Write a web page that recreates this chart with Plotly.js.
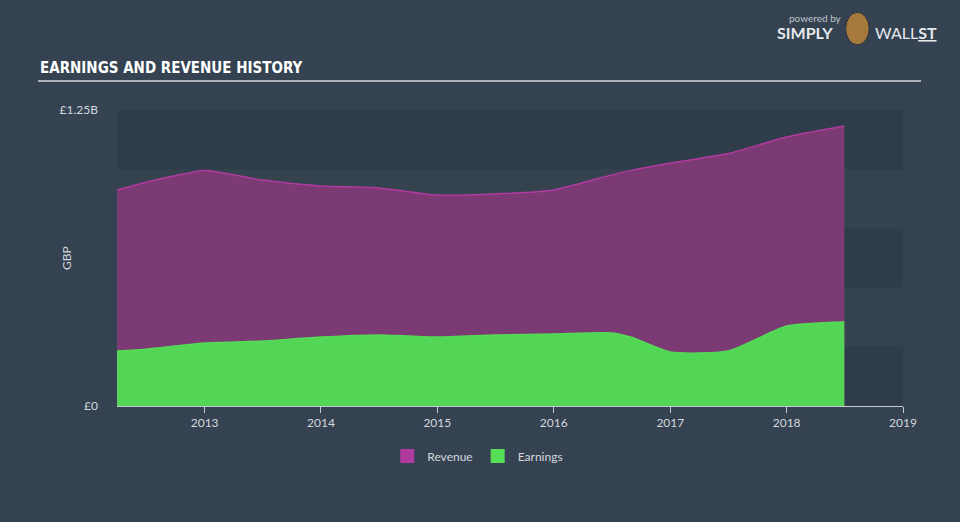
<!DOCTYPE html>
<html><head><meta charset="utf-8">
<script src="https://cdn.plot.ly/plotly-3.0.1.min.js"></script>
<style>html,body{margin:0;padding:0;background:#344252;}#c{width:960px;height:522px;}</style>
</head><body><div id="c"></div>
<script>
const dates = ["2012-04-01","2012-07-01","2012-10-01","2013-01-01","2013-07-01","2014-01-01","2014-07-01","2015-01-01","2015-07-01","2016-01-01","2016-07-01","2016-09-01","2017-01-01","2017-07-01","2018-01-01","2018-07-01"];
const revenue = [0.912e9,0.945e9,0.972e9,0.995e9,0.954e9,0.929e9,0.921e9,0.891e9,0.895e9,0.912e9,0.976e9,0.995e9,1.026e9,1.066e9,1.136e9,1.182e9];
const earnings = [0.232e9,0.240e9,0.253e9,0.266e9,0.274e9,0.291e9,0.300e9,0.291e9,0.300e9,0.304e9,0.308e9,0.290e9,0.228e9,0.232e9,0.338e9,0.355e9];
const yTickVals = [0, 1.25e9];
const yTickText = ["£0", "£1.25B"];
const xTickVals = ["2013-01-01","2014-01-01","2015-01-01","2016-01-01","2017-01-01","2018-01-01","2019-01-01"];
const xTickText = ["2013","2014","2015","2016","2017","2018","2019"];
const bandEdges = [0, 0.25e9, 0.5e9, 0.75e9, 1.0e9, 1.25e9];
const seriesNames = ["Revenue", "Earnings"];
const legendColors = ["#b03a9f", "#55e055"];

const shapes = [];
for (let i = 0; i < bandEdges.length - 1; i++) {
  shapes.push({type:'rect', xref:'paper', yref:'y', x0:0, x1:1, y0:bandEdges[i], y1:bandEdges[i+1],
    fillcolor: i % 2 === 0 ? '#2f3c4a' : '#35434f', line:{width:0}, layer:'below'});
}
shapes.push({type:'line', xref:'paper', yref:'paper', x0:-0.1005, x1:1.0229, y0:1.098, y1:1.098, line:{color:'#aeb3b9', width:2}});
shapes.push({type:'circle', xref:'paper', yref:'paper', x0:0.927, x1:0.957, y0:1.22, y1:1.33, fillcolor:'#a57a3c', line:{color:'#2a2f36', width:1}});

const traces = [
  {x: dates, y: revenue, name: seriesNames[0], type: 'scatter', mode: 'lines', fill: 'tozeroy', showlegend: false,
   line: {color: '#b23aa0', width: 1.5, shape: 'spline', smoothing: 0.6}, fillcolor: '#7b3a74'},
  {x: dates, y: earnings, name: seriesNames[1], type: 'scatter', mode: 'lines', fill: 'tozeroy', showlegend: false,
   line: {color: '#55da55', width: 1.5, shape: 'spline', smoothing: 0.6}, fillcolor: '#53d655'}
];
seriesNames.forEach((n, i) => traces.push({x: [null], y: [null], name: n, type: 'scatter', mode: 'markers',
  marker: {symbol: 'square', size: 14, color: legendColors[i]}, showlegend: true, hoverinfo: 'skip'}));

const layout = {
  width: 960, height: 522,
  paper_bgcolor: '#344252', plot_bgcolor: 'rgba(0,0,0,0)',
  margin: {l: 117, r: 57, t: 110, b: 116},
  font: {family: 'Lato, "Open Sans", sans-serif', color: '#d4d8dc', size: 12},
  showlegend: true,
  legend: {orientation: 'h', x: 0.459, xanchor: 'center', y: -0.169, yanchor: 'middle',
    font: {size: 12, color: '#d4d8dc'}, bgcolor: 'rgba(0,0,0,0)', itemwidth: 30, tracegroupgap: 0},
  xaxis: {type: 'date', range: ['2012-04-01', '2019-01-01'], tickvals: xTickVals, ticktext: xTickText,
    showgrid: false, zeroline: false, showline: true, linecolor: '#c5cad0', linewidth: 1,
    ticks: 'outside', ticklen: 6, tickcolor: '#c5cad0', tickfont: {size: 12, color: '#d4d8dc'}},
  yaxis: {range: [0, 1.25e9], tickvals: yTickVals, ticktext: yTickText, showgrid: false, zeroline: false,
    showline: false, ticks: '', ticklabelstandoff: 18, tickfont: {size: 12, color: '#d4d8dc'}},
  shapes: shapes,
  annotations: [
    {text: '<b>EARNINGS AND REVENUE HISTORY</b>', xref: 'paper', yref: 'paper', x: -0.1005, y: 1.142, xanchor: 'left', yanchor: 'middle',
     showarrow: false, font: {family: '"Liberation Sans Narrow", "DejaVu Sans Condensed", sans-serif', size: 15, color: '#ffffff'}},
    {text: 'GBP', xref: 'paper', yref: 'paper', x: -0.0649, y: 0.5, xanchor: 'center', yanchor: 'middle', textangle: -90,
     showarrow: false, font: {size: 12, color: '#d4d8dc'}},
    {text: 'powered by', xref: 'paper', yref: 'paper', x: 0.852, y: 1.311, xanchor: 'left', yanchor: 'middle',
     showarrow: false, font: {size: 10, color: '#c0c5cb'}},
    {text: '<b>SIMPLY</b>', xref: 'paper', yref: 'paper', x: 0.837, y: 1.262, xanchor: 'left', yanchor: 'middle',
     showarrow: false, font: {size: 16, color: '#e6e9ec', family: 'Lato, sans-serif'}},
    {text: 'WALL<u><b>ST</b></u>', xref: 'paper', yref: 'paper', x: 0.962, y: 1.262, xanchor: 'left', yanchor: 'middle',
     showarrow: false, font: {size: 16, color: '#e6e9ec', family: 'Lato, sans-serif'}}
  ]
};

Plotly.newPlot('c', traces, layout, {displayModeBar: false, staticPlot: true});
</script></body></html>
